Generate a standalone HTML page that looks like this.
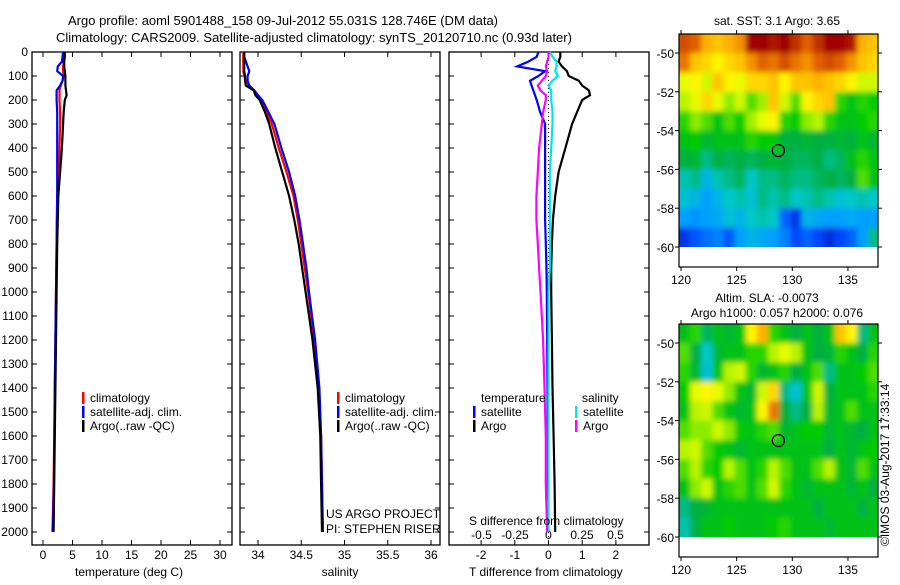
<!DOCTYPE html>
<html><head><meta charset="utf-8"><style>
body{margin:0;background:#fff;width:900px;height:580px;overflow:hidden}
svg text{font-family:"Liberation Sans",sans-serif;font-size:12px;fill:#000}
</style></head><body>
<svg id="fig" width="900" height="580" viewBox="0 0 900 580" xmlns="http://www.w3.org/2000/svg">
<text x="68" y="25" style="font-size:13px">Argo profile: aoml 5901488_158 09-Jul-2012 55.031S 128.746E (DM data)</text>
<text x="56" y="42" style="font-size:13px">Climatology: CARS2009. Satellite-adjusted climatology: synTS_20120710.nc (0.93d later)</text>
<g id="g"></g>
</svg>
<script>
const depths=[0,20,40,60,80,100,120,140,160,180,200,250,300,400,500,600,700,800,900,1000,1200,1400,1600,1800,2000];
const tempArgo=[3.7,3.7,3.6,3.6,3.7,3.8,3.8,3.8,3.9,4.0,3.7,3.5,3.4,3.2,2.9,2.6,2.5,2.4,2.35,2.3,2.2,2.1,2.0,1.9,1.8];
const tempClim=[3.5,3.5,3.5,3.4,3.4,3.5,3.3,3.0,2.8,2.8,2.8,2.9,2.9,2.8,2.6,2.4,2.35,2.3,2.25,2.2,2.1,2.0,1.9,1.8,1.6];
const tempSat=[3.4,3.3,3.2,2.5,2.4,3.4,3.3,2.9,2.3,2.3,2.3,2.4,2.4,2.4,2.4,2.4,2.35,2.3,2.25,2.2,2.1,2.0,1.95,1.85,1.7];
const salArgo=[33.84,33.84,33.84,33.84,33.84,33.85,33.85,33.86,33.95,33.97,34.02,34.08,34.13,34.2,34.28,34.36,34.42,34.47,34.51,34.55,34.63,34.69,34.72,34.73,34.74];
const salClim=[33.83,33.83,33.83,33.83,33.83,33.84,33.86,33.9,33.96,34.0,34.04,34.1,34.16,34.24,34.33,34.41,34.46,34.5,34.54,34.58,34.65,34.7,34.73,34.74,34.75];
const salSat=[33.84,33.84,33.86,33.88,33.9,33.88,33.88,33.9,33.95,34.0,34.05,34.12,34.19,34.27,34.36,34.43,34.48,34.52,34.56,34.59,34.66,34.71,34.73,34.74,34.75];
const tdiffSat=[-0.3,-0.35,-0.6,-0.93,-0.1,-0.3,-0.55,-0.5,-0.45,-0.4,-0.35,-0.25,-0.1,-0.1,-0.1,-0.1,-0.1,-0.08,-0.06,-0.05,-0.04,-0.03,-0.02,-0.02,0.0];
const tdiffArgo=[0.35,0.35,0.3,0.4,0.55,0.6,0.9,1.0,1.2,1.23,1.0,0.85,0.7,0.5,0.3,0.2,0.13,0.1,0.08,0.08,0.1,0.12,0.15,0.18,0.2];
const sdiffSat=[0.01,0.03,0.06,0.06,0.05,0.07,0.03,0.0,0.02,0.02,0.02,0.03,0.03,0.02,0.01,0.01,0.01,0.01,0.01,0.0,0.0,0.0,0.0,0.0,0.0];
const sdiffArgo=[0,0,-0.01,-0.02,-0.01,-0.02,-0.05,-0.08,-0.06,-0.02,-0.02,-0.04,-0.05,-0.07,-0.08,-0.09,-0.09,-0.08,-0.07,-0.06,-0.04,-0.03,-0.02,-0.02,-0.01];
const depthTicks=[0,100,200,300,400,500,600,700,800,900,1000,1100,1200,1300,1400,1500,1600,1700,1800,1900,2000];
const tempTicks=[0,5,10,15,20,25,30];
const salTicks=[34,34.5,35,35.5,36];
const tdTicks=[-2,-1,0,1,2];
const sdTicks=[-0.5,-0.25,0,0.25,0.5];
const sdTickLabels=["-0.5","-0.25","0","0.25","0.5"];
const lonTicks=[120,125,130,135];
const latTicks=[-50,-52,-54,-56,-58,-60];
const argoLon=128.746, argoLat=-55.031;
const sstGrid=[
[0.92,0.9,0.82,0.8,0.82,0.85,1,1,0.98,1,0.95,0.9,0.95,1,1,0.98,0.82,0.8],
[0.88,0.8,0.78,0.75,0.78,0.8,0.85,0.9,0.88,0.92,0.88,0.85,0.9,0.92,0.9,0.85,0.8,0.78],
[0.72,0.75,0.7,0.8,0.75,0.72,0.78,0.78,0.8,0.75,0.8,0.8,0.82,0.8,0.78,0.75,0.7,0.7],
[0.68,0.72,0.78,0.72,0.65,0.7,0.62,0.66,0.8,0.7,0.62,0.75,0.78,0.8,0.6,0.55,0.6,0.58],
[0.6,0.65,0.62,0.55,0.62,0.58,0.66,0.72,0.75,0.6,0.58,0.65,0.68,0.6,0.55,0.55,0.58,0.6],
[0.55,0.58,0.52,0.55,0.55,0.55,0.6,0.58,0.58,0.5,0.5,0.52,0.5,0.5,0.52,0.5,0.55,0.52],
[0.5,0.52,0.45,0.5,0.48,0.5,0.48,0.5,0.52,0.5,0.48,0.48,0.5,0.45,0.48,0.55,0.6,0.55],
[0.42,0.45,0.35,0.42,0.45,0.48,0.4,0.45,0.45,0.48,0.45,0.45,0.48,0.5,0.48,0.5,0.62,0.55],
[0.38,0.35,0.3,0.35,0.4,0.42,0.38,0.45,0.42,0.45,0.4,0.42,0.45,0.42,0.38,0.4,0.42,0.4],
[0.3,0.28,0.3,0.32,0.38,0.35,0.4,0.42,0.4,0.2,0.12,0.35,0.32,0.3,0.3,0.32,0.3,0.3],
[0.12,0.18,0.22,0.25,0.18,0.3,0.35,0.32,0.3,0.25,0.15,0.2,0.15,0.1,0.15,0.2,0.3,0.45]];
const slaGrid=[
[0.55,0.6,0.48,0.55,0.52,0.55,0.75,0.82,0.6,0.55,0.5,0.55,0.5,0.55,0.8,0.75,0.45,0.55],
[0.62,0.5,0.4,0.52,0.55,0.55,0.6,0.6,0.68,0.72,0.68,0.55,0.5,0.52,0.6,0.55,0.5,0.6],
[0.6,0.52,0.38,0.55,0.68,0.7,0.6,0.52,0.55,0.6,0.5,0.55,0.62,0.45,0.55,0.55,0.58,0.62],
[0.58,0.72,0.75,0.72,0.65,0.55,0.52,0.7,0.78,0.45,0.38,0.55,0.7,0.5,0.55,0.55,0.55,0.6],
[0.55,0.68,0.7,0.62,0.55,0.52,0.55,0.75,0.88,0.5,0.45,0.5,0.68,0.52,0.55,0.62,0.55,0.55],
[0.62,0.65,0.65,0.7,0.65,0.58,0.55,0.6,0.62,0.52,0.55,0.58,0.58,0.52,0.55,0.52,0.5,0.55],
[0.68,0.7,0.62,0.58,0.55,0.52,0.55,0.55,0.55,0.55,0.55,0.55,0.55,0.5,0.55,0.52,0.55,0.58],
[0.62,0.68,0.6,0.58,0.68,0.62,0.55,0.6,0.68,0.62,0.55,0.55,0.62,0.68,0.55,0.52,0.62,0.55],
[0.55,0.65,0.7,0.55,0.6,0.62,0.55,0.62,0.7,0.6,0.55,0.52,0.55,0.55,0.55,0.52,0.55,0.5],
[0.45,0.5,0.52,0.55,0.55,0.55,0.55,0.55,0.55,0.55,0.55,0.55,0.5,0.55,0.55,0.55,0.5,0.55],
[0.42,0.5,0.55,0.55,0.58,0.55,0.55,0.55,0.58,0.6,0.55,0.55,0.55,0.52,0.55,0.55,0.55,0.55]];

const NS='http://www.w3.org/2000/svg';
const G=document.getElementById('g');
function mk(tag,attrs,parent){const e=document.createElementNS(NS,tag);for(const k in attrs)e.setAttribute(k,attrs[k]);(parent||G).appendChild(e);return e;}
function txt(x,y,s,anchor,parent){const t=mk('text',{x:x,y:y,'text-anchor':anchor||'start'},parent);t.textContent=s;return t;}
const Y0=52, DPX=0.24;
const yD=d=>Y0+d*DPX;
const FT=52, FB=545;
const xT=v=>43+v*5.9;
const xS=v=>258+(v-34)*86.5;
const xTD=v=>548.5+v*33.7;
const xSD=v=>548.5+v*134;

function frame(x0,x1,name){
  const r=mk('rect',{x:x0,y:FT,width:x1-x0,height:FB-FT,fill:'none',stroke:'#000','stroke-width':1.3});
  
  
}
function line(xs,xf,color,name,w){
  const pts=depths.map((d,i)=>xf(xs[i]).toFixed(1)+','+yD(d).toFixed(1)).join(' ');
  const p=mk('polyline',{points:pts,fill:'none',stroke:color,'stroke-width':w||2.2});
  
  
}
function xticks(ticks,labels,xf,ly){
  ticks.forEach((t,i)=>{
    mk('line',{x1:xf(t),x2:xf(t),y1:FB,y2:FB-5,stroke:'#000'});
    mk('line',{x1:xf(t),x2:xf(t),y1:FT,y2:FT+5,stroke:'#000'});
    if(ly){const l=txt(xf(t),ly,labels[i],'middle');
      
      }
  });
}
frame(32,232,'temperature-panel');
depthTicks.forEach(d=>{
  mk('line',{x1:32,x2:37,y1:yD(d),y2:yD(d),stroke:'#000'});
  [240,449].forEach(x=>mk('line',{x1:x,x2:x+5,y1:yD(d),y2:yD(d),stroke:'#000'}));
  [232,440,649].forEach(x=>mk('line',{x1:x,x2:x-5,y1:yD(d),y2:yD(d),stroke:'#000'}));
  const l=txt(28,yD(d)+4,String(d),'end');
  
  
});
xticks(tempTicks,tempTicks.map(String),xT,559);
line(tempClim,xT,'#ff0000','temp-climatology-line');
line(tempSat,xT,'#0000ff','temp-satellite-line');
line(tempArgo,xT,'#000000','temp-argo-line');
txt(75,576,'temperature (deg C)');
frame(240,440,'salinity-panel');
xticks(salTicks,['34','34.5','35','35.5','36'],xS,559);
line(salClim,xS,'#ff0000','sal-climatology-line');
line(salSat,xS,'#0000ff','sal-satellite-line');
line(salArgo,xS,'#000000','sal-argo-line');
txt(340,576,'salinity','middle');
txt(326,518,'US ARGO PROJECT');
txt(326,533,'PI: STEPHEN RISER');
frame(449,649,'difference-panel');
xticks(tdTicks,tdTicks.map(String),xTD,559);
sdTicks.forEach((t,i)=>{const l=txt(xSD(t),539,sdTickLabels[i],'middle');
  
  });
mk('line',{x1:xTD(0),x2:xTD(0),y1:FT,y2:FB,stroke:'#000','stroke-dasharray':'1,3'});
line(tdiffArgo,xTD,'#000000','tdiff-argo-line');
line(tdiffSat,xTD,'#0000ff','tdiff-satellite-line');
line(sdiffSat,xSD,'#00e5e5','sdiff-satellite-line');
line(sdiffArgo,xSD,'#ff00ff','sdiff-argo-line');
txt(469,525,'S difference from climatology');
txt(469,576,'T difference from climatology');
function leg(x,y,color,label,name){
  mk('rect',{x:x,y:y-10,width:2.5,height:12,fill:color});
  const t=txt(x+8,y,label);
  
  
}
leg(82,402,'#ff0000','climatology','legend-climatology');
leg(82,416,'#0000ff','satellite-adj. clim.','legend-satellite');
leg(82,430,'#000000','Argo(..raw -QC)','legend-argo');
leg(337,402,'#ff0000','climatology','legend-climatology');
leg(337,416,'#0000ff','satellite-adj. clim.','legend-satellite');
leg(337,430,'#000000','Argo(..raw -QC)','legend-argo');
txt(481,402,'temperature');
txt(582,402,'salinity');
leg(473,416,'#0000ff','satellite','legend-t-satellite');
leg(473,430,'#000000','Argo','legend-t-argo');
leg(575,416,'#00e5e5','satellite','legend-s-satellite');
leg(575,430,'#ff00ff','Argo','legend-s-argo');

const stops=[[0,[0,0,140]],[0.15,[0,70,255]],[0.3,[0,160,255]],[0.4,[0,200,200]],[0.5,[0,176,64]],[0.58,[0,204,0]],[0.66,[160,240,0]],[0.74,[255,255,0]],[0.82,[255,176,0]],[0.9,[224,96,0]],[1,[160,0,0]]];
function cmap(v){for(let i=1;i<stops.length;i++){if(v<=stops[i][0]){const a=stops[i-1],b=stops[i],f=(v-a[0])/(b[0]-a[0]);return 'rgb('+a[1].map((c,j)=>Math.round(c+(b[1][j]-c)*f)).join(',')+')';}}return 'rgb(160,0,0)';}
function map(top,grid,name){
  const xL=v=>681+(v-120)*11.13;
  const yL=v=>top+19+(-50-v)*19.4;
  const X0=679,X1=878,YT=top,YB=top+233;
  const DB=yL(-60);
  const g=mk('g',{});
  
  
  const cid='clip'+top, fid='blur'+top;
  const cp=mk('clipPath',{id:cid},g);mk('rect',{x:X0,y:YT,width:X1-X0,height:DB-YT},cp);
  const f=mk('filter',{id:fid,x:'-10%',y:'-10%',width:'120%',height:'120%'},g);
  mk('feGaussianBlur',{stdDeviation:2.6},f);
  const outer=mk('g',{'clip-path':'url(#'+cid+')'},g);
  const cells=mk('g',{filter:'url(#'+fid+')'},outer);
  const nr=grid.length;
  grid.forEach((row,r)=>row.forEach((v,c)=>{
    let x=xL(120+c)-2,y=yL(-49-r);
    let w=xL(121+c)-xL(120+c)+0.6,h=yL(-50-r)-y+0.6;
    if(c===0){x-=12;w+=12;}
    if(c===row.length-1){w+=12;}
    if(r===0){y-=12;h+=12;}
    if(r===nr-1){h+=12;}
    mk('rect',{x:x,y:y,width:w,height:h,fill:cmap(v)},cells);
  }));
  mk('rect',{x:X0,y:YT,width:X1-X0,height:YB-YT,fill:'none',stroke:'#000','stroke-width':1.2},g);
  lonTicks.forEach(l=>{mk('line',{x1:xL(l),x2:xL(l),y1:YB,y2:YB+4,stroke:'#000'},g);
    mk('line',{x1:xL(l),x2:xL(l),y1:YT,y2:YT-4,stroke:'#000'},g);
    txt(xL(l),YB+17,String(l),'middle',g);});
  latTicks.forEach(l=>{mk('line',{x1:X0,x2:X0-4,y1:yL(l),y2:yL(l),stroke:'#000'},g);
    mk('line',{x1:X1,x2:X1+4,y1:yL(l),y2:yL(l),stroke:'#000'},g);
    txt(674,yL(l)+5,String(l),'end',g);});
  const m=mk('circle',{cx:xL(argoLon),cy:yL(argoLat),r:6,fill:'none',stroke:'#000','stroke-width':1.2},g);
  
  
}
map(34,sstGrid,'sst-map');
map(324,slaGrid,'sla-map');
txt(777,25,'sat. SST: 3.1 Argo: 3.65','middle');
txt(767,302,'Altim. SLA: -0.0073','middle');
txt(777,317,'Argo h1000: 0.057 h2000: 0.076','middle');
const st=txt(0,0,'©IMOS 03-Aug-2017 17:33:14');
st.setAttribute('transform','translate(889,546) rotate(-90)');


</script>
</body></html>
